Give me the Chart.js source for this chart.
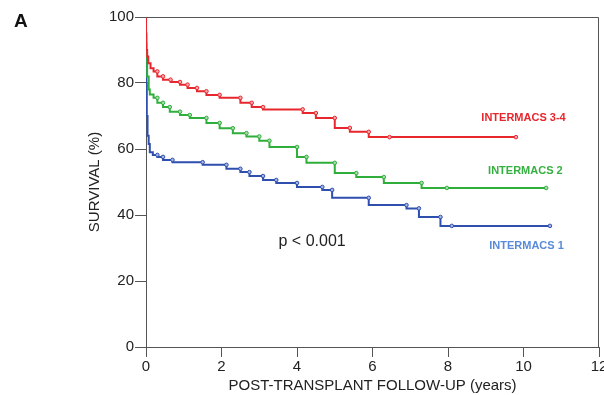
<!DOCTYPE html>
<html>
<head>
<meta charset="utf-8">
<script src="https://cdn.jsdelivr.net/npm/chart.js@4/dist/chart.umd.min.js"></script>
<style>
  html, body { margin: 0; padding: 0; background: #fff; }
  #wrap { position: relative; width: 604px; height: 395px; }
  #panel { position: absolute; left: 14px; top: 10px; font: bold 19px "Liberation Sans", Arial, sans-serif; color: #111; }
</style>
</head>
<body>
<div id="wrap">
  <canvas id="km" width="604" height="395"></canvas>
  <div id="panel">A</div>
</div>
<script>
// Kaplan-Meier estimates (years, survival %)
const tIM34 = [0, 0.01, 0.03, 0.06, 0.12, 0.2, 0.3, 0.45, 0.65, 0.9, 1.1, 1.35, 1.6, 1.95, 2.5, 2.8, 3.1, 4.15, 4.5, 5.0, 5.4, 5.9, 6.45, 9.8];
const sIM34 = [100, 95, 90, 88, 86, 84.5, 83.5, 82, 81, 80.3, 79.5, 78.5, 77.5, 76.4, 75.5, 74, 72.7, 72, 70.9, 69.4, 66.4, 65.2, 63.6, 63.6];

const tIM2 = [0, 0.01, 0.03, 0.07, 0.1, 0.2, 0.3, 0.45, 0.63, 0.9, 1.16, 1.6, 1.95, 2.3, 2.66, 3.0, 3.27, 4.0, 4.25, 5.0, 5.57, 6.3, 7.3, 7.97, 10.6];
const sIM2 = [100, 92, 88, 82, 78, 76.5, 75.5, 74, 72.7, 71.3, 70.3, 69.4, 67.9, 66.3, 64.8, 63.8, 62.5, 60.6, 57.6, 55.8, 52.7, 51.5, 49.7, 48.2, 48.2];

const tIM1 = [0, 0.01, 0.02, 0.04, 0.07, 0.1, 0.18, 0.3, 0.45, 0.7, 1.5, 2.13, 2.5, 2.74, 3.1, 3.45, 4.0, 4.67, 4.93, 5.9, 6.9, 7.23, 7.8, 8.1, 10.7];
const sIM1 = [100, 88, 80, 70, 64, 61.5, 59, 58.2, 57.6, 56.7, 56, 55.2, 54, 53, 51.8, 50.6, 49.7, 48.5, 47.6, 45.2, 43, 42, 39.4, 36.7, 36.7];

const groupNames = ["INTERMACS 3-4", "INTERMACS 2", "INTERMACS 1"];
const xTicks = [0, 2, 4, 6, 8, 10, 12];
const yTicks = [0, 20, 40, 60, 80, 100];
const pText = "p < 0.001";

const FONT = '"Liberation Sans", Arial, sans-serif';

function toPts(ts, ss) { return ts.map((t, i) => ({ x: t, y: ss[i] })); }

function km(label, ts, ss, color, light) {
  return {
    label: label,
    data: toPts(ts, ss),
    borderColor: color,
    borderWidth: 2,
    stepped: 'after',
    pointRadius: ctx => (ctx.raw && ctx.raw.x < 0.25 ? 0 : 1.8),
    pointBorderWidth: 1,
    pointBorderColor: color,
    pointBackgroundColor: light
  };
}

// frame on top/right and the in-plot texts
const decor = {
  id: 'decor',
  afterDraw(chart) {
    const { ctx, chartArea: a, scales: { x, y } } = chart;
    ctx.save();
    ctx.strokeStyle = '#555';
    ctx.lineWidth = 1;
    ctx.beginPath();
    ctx.moveTo(a.left, a.top + 0.5);
    ctx.lineTo(a.right - 0.5, a.top + 0.5);
    ctx.lineTo(a.right - 0.5, a.bottom);
    ctx.stroke();

    ctx.textAlign = 'center';
    ctx.textBaseline = 'middle';
    ctx.font = 'bold 11px ' + FONT;
    ctx.fillStyle = '#e8262d';
    ctx.fillText(groupNames[0], x.getPixelForValue(10.0), y.getPixelForValue(69.4));
    ctx.fillStyle = '#36b041';
    ctx.fillText(groupNames[1], x.getPixelForValue(10.05), y.getPixelForValue(53.3));
    ctx.fillStyle = '#5a8bd8';
    ctx.fillText(groupNames[2], x.getPixelForValue(10.08), y.getPixelForValue(30.6));

    ctx.font = '16px ' + FONT;
    ctx.fillStyle = '#222';
    ctx.fillText(pText, x.getPixelForValue(4.4), y.getPixelForValue(31.8));
    ctx.restore();
  }
};

new Chart(document.getElementById('km'), {
  type: 'line',
  data: {
    datasets: [
      km(groupNames[0], tIM34, sIM34, '#e8262d', '#f6a9ab'),
      km(groupNames[1], tIM2, sIM2, '#2fae3b', '#a6dcaa'),
      km(groupNames[2], tIM1, sIM1, '#2f4fae', '#a7b5e0')
    ]
  },
  options: {
    responsive: false,
    animation: false,
    layout: { padding: { left: 86, right: 3, top: 17, bottom: 0 } },
    plugins: { legend: { display: false }, tooltip: { enabled: false } },
    scales: {
      x: {
        type: 'linear',
        min: 0, max: 12,
        afterBuildTicks: s => { s.ticks = xTicks.map(v => ({ value: v })); },
        afterFit: s => { s.paddingLeft = 0; s.paddingRight = 0; },
        grid: { drawOnChartArea: false, tickLength: 10, color: '#555', tickWidth: 1 },
        border: { color: '#555', width: 1 },
        ticks: { color: '#222', font: { family: FONT, size: 15 }, padding: 1, maxRotation: 0 },
        title: { display: true, text: 'POST-TRANSPLANT FOLLOW-UP (years)', color: '#222', font: { family: FONT, size: 15 }, padding: { top: 0, bottom: 0 } }
      },
      y: {
        min: 0, max: 100,
        afterBuildTicks: s => { s.ticks = yTicks.map(v => ({ value: v })); },
        grid: { drawOnChartArea: false, tickLength: 11, color: '#555', tickWidth: 1 },
        border: { color: '#555', width: 1 },
        ticks: { color: '#222', font: { family: FONT, size: 15 }, padding: 1 },
        title: { display: true, text: 'SURVIVAL (%)', color: '#222', font: { family: FONT, size: 15 }, padding: { top: 0, bottom: 4 } }
      }
    }
  },
  plugins: [decor]
});
</script>
</body>
</html>
